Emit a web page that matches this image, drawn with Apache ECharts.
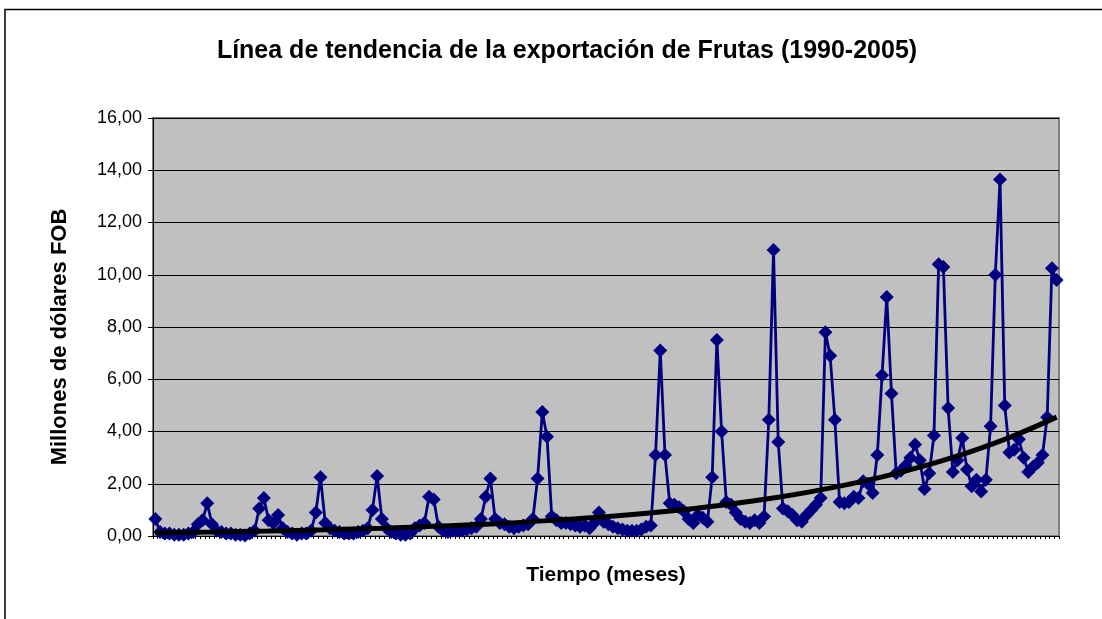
<!DOCTYPE html>
<html>
<head>
<meta charset="utf-8">
<script src="https://cdn.jsdelivr.net/npm/echarts@6/dist/echarts.min.js"></script>
<style>
html,body{margin:0;padding:0;background:#fff;}
#c{width:1102px;height:619px;}
</style>
</head>
<body>
<div id="c"></div>
<script>
// Monthly exports of fruit (millions USD FOB)
const y1990 = [0.65, 0.15, 0.10, 0.10, 0.05, 0.05, 0.05, 0.10, 0.15, 0.45, 0.60, 1.25];
const y1991 = [0.45, 0.20, 0.15, 0.10, 0.10, 0.05, 0.05, 0.02, 0.10, 0.20, 1.05, 1.45];
const y1992 = [0.60, 0.50, 0.80, 0.30, 0.15, 0.10, 0.05, 0.10, 0.10, 0.20, 0.90, 2.25];
const y1993 = [0.50, 0.30, 0.20, 0.15, 0.10, 0.10, 0.10, 0.15, 0.20, 0.30, 1.00, 2.30];
const y1994 = [0.65, 0.30, 0.15, 0.10, 0.05, 0.05, 0.10, 0.30, 0.40, 0.50, 1.50, 1.40];
const y1995 = [0.35, 0.20, 0.15, 0.20, 0.20, 0.20, 0.25, 0.30, 0.35, 0.65, 1.50, 2.20];
const y1996 = [0.65, 0.50, 0.45, 0.35, 0.30, 0.35, 0.40, 0.45, 0.65, 2.20, 4.75, 3.80];
const y1997 = [0.75, 0.60, 0.50, 0.50, 0.45, 0.40, 0.35, 0.40, 0.30, 0.50, 0.90, 0.55];
const y1998 = [0.45, 0.35, 0.30, 0.25, 0.20, 0.20, 0.20, 0.25, 0.35, 0.40, 3.10, 7.10];
const y1999 = [3.10, 1.25, 1.20, 1.10, 0.95, 0.65, 0.50, 0.80, 0.70, 0.55, 2.25, 7.50];
const y2000 = [4.00, 1.30, 1.20, 0.90, 0.65, 0.55, 0.50, 0.60, 0.50, 0.75, 4.45, 10.95];
const y2001 = [3.60, 1.05, 0.95, 0.80, 0.60, 0.55, 0.80, 1.00, 1.20, 1.45, 7.80, 6.90];
const y2002 = [4.45, 1.30, 1.25, 1.30, 1.50, 1.45, 2.10, 2.00, 1.65, 3.10, 6.15, 9.15];
const y2003 = [5.45, 2.40, 2.50, 2.70, 3.00, 3.50, 2.90, 1.80, 2.40, 3.85, 10.40, 10.30];
const y2004 = [4.90, 2.45, 2.90, 3.75, 2.55, 1.90, 2.15, 1.70, 2.15, 4.20, 10.00, 13.65];
const y2005 = [5.00, 3.20, 3.30, 3.70, 3.00, 2.45, 2.65, 2.80, 3.10, 4.55, 10.25, 9.80];

// Trend line at one point per year (category index, value)
const trendIndex = [0, 12, 24, 36, 48, 60, 72, 84, 96, 108, 120, 132, 144, 156, 168, 180, 191];
const trendValue = [0.12, 0.15, 0.19, 0.24, 0.30, 0.38, 0.47, 0.60, 0.75, 0.94, 1.18, 1.48, 1.87, 2.35, 2.95, 3.70, 4.55];

const years = [1990,1991,1992,1993,1994,1995,1996,1997,1998,1999,2000,2001,2002,2003,2004,2005];
const months = ['01','02','03','04','05','06','07','08','09','10','11','12'];
const yTickLabels = ['0,00','2,00','4,00','6,00','8,00','10,00','12,00','14,00','16,00'];

const yearly = [y1990,y1991,y1992,y1993,y1994,y1995,y1996,y1997,y1998,y1999,y2000,y2001,y2002,y2003,y2004,y2005];
const categories = [];
years.forEach(y => months.forEach(m => categories.push(y + '-' + m)));
const values = [].concat(...yearly);
const trend = trendIndex.map((ix, k) => [ix, trendValue[k]]);

const FONT = '"Liberation Sans", Arial, sans-serif';
const chart = echarts.init(document.getElementById('c'), null, {renderer: 'canvas'});
chart.setOption({
  animation: false,
  backgroundColor: '#ffffff',
  title: {
    text: 'Línea de tendencia de la exportación de Frutas (1990-2005)',
    left: 562, top: 34, textAlign: 'center',
    textStyle: {fontFamily: FONT, fontSize: 25, fontWeight: 'bold', color: '#000'}
  },
  graphic: [{
    type: 'rect', silent: true, z: -1,
    shape: {x: 5, y: 9.5, width: 1120, height: 640},
    style: {fill: 'none', stroke: '#000', lineWidth: 1.5}
  }, {
    type: 'text', silent: true,
    x: 60, y: 337, rotation: Math.PI / 2,
    style: {
      text: 'Millones de dólares FOB', fill: '#000',
      font: 'bold 22px "Liberation Sans", Arial, sans-serif',
      align: 'center', verticalAlign: 'middle'
    }
  }],
  grid: {
    left: 153, right: 43, top: 118, bottom: 83,
    show: true, backgroundColor: '#C0C0C0', borderColor: '#808080', borderWidth: 2
  },
  xAxis: {
    type: 'category', data: categories, boundaryGap: true,
    name: 'Tiempo (meses)', nameLocation: 'middle', nameGap: 29,
    nameTextStyle: {fontFamily: FONT, fontSize: 21, fontWeight: 'bold', color: '#000'},
    axisLine: {lineStyle: {color: '#000', width: 1}},
    axisTick: {show: true, interval: 0, length: 3, lineStyle: {color: '#000'}},
    axisLabel: {show: false},
    splitLine: {show: false}
  },
  yAxis: {
    type: 'value', min: 0, max: 16, interval: 2,
    axisLine: {show: true, lineStyle: {color: '#000', width: 1}},
    axisTick: {show: true, inside: false, length: 5, lineStyle: {color: '#000'}},
    axisLabel: {
      fontFamily: FONT, fontSize: 18, color: '#000', margin: 11,
      formatter: v => yTickLabels[Math.round(v / 2)]
    },
    splitLine: {show: true, lineStyle: {color: '#000', width: 1}}
  },
  series: [{
    type: 'line', data: values,
    showAllSymbol: true,
    symbol: 'diamond', symbolSize: 14,
    itemStyle: {color: '#000080'},
    lineStyle: {color: '#000080', width: 2.8},
    z: 2
  }, {
    type: 'line', data: trend, smooth: 0.4,
    symbol: 'none',
    lineStyle: {color: '#000', width: 5},
    z: 3
  }]
});
</script>
</body>
</html>
